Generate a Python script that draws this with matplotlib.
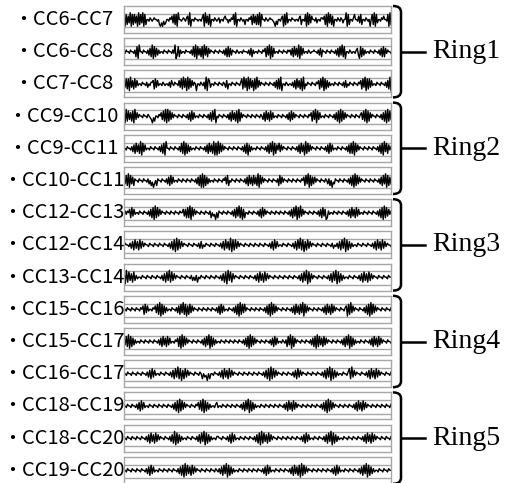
import numpy as np
import matplotlib.pyplot as plt
from matplotlib.path import Path
from matplotlib.patches import PathPatch

labels = ['CC6-CC7', 'CC6-CC8', 'CC7-CC8',
          'CC9-CC10', 'CC9-CC11', 'CC10-CC11',
          'CC12-CC13', 'CC12-CC14', 'CC13-CC14',
          'CC15-CC16', 'CC15-CC17', 'CC16-CC17',
          'CC18-CC19', 'CC18-CC20', 'CC19-CC20']
rings = ['Ring1', 'Ring2', 'Ring3', 'Ring4', 'Ring5']

# distance traces, one digit per sample (1..9, baseline 5)
traces = [
    ("91827391828371928391825546545655452131423554657382819554565467291554655455468193"
     "72815546545635546755354658291554654525546572837282918554654565543142554671829355"
     "46554554672554819283755463554665728193827155465465355918255468554738255465451582"
     "91835546575548192"),
    ("54655465546281955465546372918273645546554655464913826455465554638291837281938274"
     "65546554655463728273655465455465554637264554655465728391827455465546554656372837"
     "29183745546545565546372655465546554637283928155465455467318273645546554655463728"
     "2746554"),
    ("73828193728374554655463546672837455465455463754655473829381928374651554654629187"
     "35546554655465372554655465546829381928371829374655465546554637282915546545546372"
     "83728192546554655465728391827364554655465546373546554655465728391828374554655465"
     "54637291"),
    ("81928372819374655465546543142554657382919283746554655465546372837455465546554637"
     "28391546554655463728372819274655465546554655465372837283745546554655463728374655"
     "46554655465728391837455465546554637281928374655465546554673829182746554655463728"
     "19283"),
    ("55465546372837291837455465546554637281955465546554638291827364554655465546372837"
     "29181928374655465546554655463728173645546554655463728391827483746554655465546372"
     "83719283746554655465546372837455465546554637282918374655465546554655463728193827"
     "46"),
    ("73829183726554655465546352413526554655463728374554655465546554655463728191827364"
     "55465546554657382546554655465546372837283729183746554655465546283746554655465546"
     "55465728391827374655465546536251436554655465546372819283746554655465546554637283"
     "918273"),
    ("56465728374554655465546372819283746554655465546554655737282918374655465546554625"
     "34152655465546554637283928172554655465546372837465546554655465546554637283918293"
     "74655465546554637283712645546554655465546372837283745546554655465546372819283746"),
    ("46554637283728374655465546554655465546372819283746554655465546373546554655465546"
     "37283729182837465546554655465546554655463728374554655465546372839281728374655465"
     "54655465546354637283918273645546554655465546372837283746554"),
    ("81928372836455465546554655465546372839283746554655465546353625465546554655465546"
     "37281938274655465546554655463728372837465546554655465546554655463728391827465546"
     "55465546372839182736455465546554637283728374655465546554655"),
    ("55465546554655465728374554657382918273645546554637283928172837465546554655465546"
     "55463728374554655463728192838465546554655465546372819283746554655465546372837283"
     "91837465546554655463728372837465546554671829374655465546372819283746554655465546"),
    ("73829182736455465546554655465546372837283745546572819283746554655465546372839182"
     "73645546554655465546554655463728192837465546554655463728374554654628391827465546"
     "55465546372819283728374655465546554637283918273645546554655463728372837465546554"),
    ("55465546554655465546372837455465546554637283928172837465546554652534152554655463"
     "72837283746554655465546554655465546372819283746554655465546372837465546554655465"
     "54637283918273645546554682937465546554637283728374655465546"),
    ("55465546554637283745546554655465546554655463728192837465546554657382918273645546"
     "74554655465546554655463728391827364554655465546554655465546372837283746554655465"
     "54655465546372819283746554655465546554637283728374655465546554655465546"),
    ("55465546554655465546372837283746554655463729182736455465546554637283918273645546"
     "65546554637283745546554655465546372819283728374655465546554655465546554637283745"
     "54655465546372839182736455465546554655465546372837283746554655465546"),
    ("55465546554655465546372837455465546554655465546372819283728374655465546554655465"
     "46372839182736455465546554655465546554637283745546554655465546372837281928374655"
     "46554655465546554637283745546554655465546372839182736455465546554655"),
]

W, H = 516, 483
fig = plt.figure(figsize=(W / 100, H / 100), dpi=100)

x0, x1 = 124, 391
top0, step, ph = 6, 32.2, 27
gray = '#a6a6a6'

for i, (lab, tr) in enumerate(zip(labels, traces)):
    y = np.array([int(c) for c in tr], dtype=float)
    top = top0 + i * step
    ax = fig.add_axes([x0 / W, 1 - (top + ph) / H, (x1 - x0) / W, ph / H])
    ax.plot(np.arange(len(y)), y, color='black', lw=1.0)
    ax.set_xlim(0, len(y) - 1)
    ax.set_ylim(-3, 13)
    ax.set_yticks([0.4, 8.4])
    ax.set_xticks([])
    ax.set_axisbelow(True)
    ax.grid(axis='y', color=gray, lw=1)
    ax.tick_params(left=False, labelleft=False)
    for s in ax.spines.values():
        s.set_color(gray)
        s.set_linewidth(1)
    fig.text(63 / W, 1 - (top + ph / 2) / H, '・' + lab, ha='center', va='center',
             fontsize=14.5, family=['Noto Sans CJK JP', 'DejaVu Sans'])

# right braces with ring names
bx0, bx1, bx2, r = 393, 401, 425, 6
for g, name in enumerate(rings):
    yt = top0 + 3 * g * step
    yb = top0 + (3 * g + 2) * step + ph
    ym = (yt + yb) / 2
    pts = [(bx0, yt), (bx1, yt), (bx1, yt + r), (bx1, yb - r), (bx1, yb), (bx0, yb)]
    codes = [Path.MOVETO, Path.CURVE3, Path.CURVE3, Path.LINETO, Path.CURVE3, Path.CURVE3]
    verts = [(px / W, 1 - py / H) for px, py in pts]
    fig.add_artist(PathPatch(Path(verts, codes), fc='none', ec='black', lw=1.8,
                             transform=fig.transFigure))
    fig.add_artist(plt.Line2D([bx1 / W, bx2 / W], [1 - ym / H, 1 - ym / H],
                              color='black', lw=1.8, transform=fig.transFigure))
    fig.text(432 / W, 1 - ym / H, name, ha='left', va='center', fontsize=20,
             family='Liberation Serif')

fig.savefig('out.png', dpi=100)
